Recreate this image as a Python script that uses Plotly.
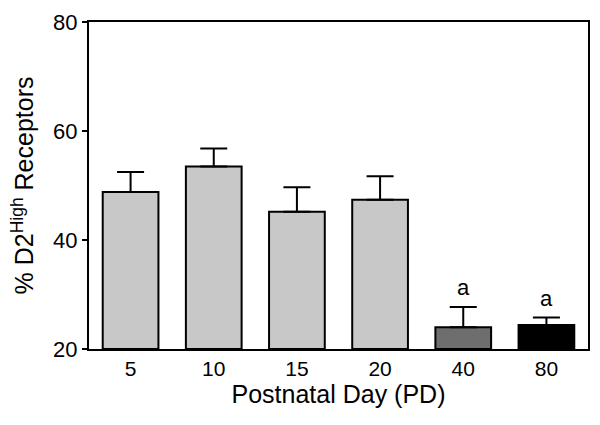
import plotly.graph_objects as go

categories = ["5", "10", "15", "20", "40", "80"]
means = [48.8, 53.5, 45.2, 47.4, 24.0, 24.4]
sem = [3.7, 3.3, 4.5, 4.3, 3.7, 1.4]
bar_colors = ["#c8c8c8", "#c8c8c8", "#c8c8c8", "#c8c8c8", "#6e6e6e", "#000000"]
sig_labels = ["", "", "", "", "a", "a"]
y_ticks = [20, 40, 60, 80]

fig = go.Figure()
fig.add_trace(go.Bar(
    x=categories, y=[m - 20 for m in means], base=20,
    marker=dict(color=bar_colors, line=dict(color="black", width=2)),
    width=0.67,
    error_y=dict(type="data", array=sem, arrayminus=[0]*len(sem), symmetric=False,
                 color="black", thickness=2, width=13.5),
    showlegend=False,
))

font = "Liberation Sans, Arial, sans-serif"
for i, (m, s, lab) in enumerate(zip(means, sem, sig_labels)):
    if lab:
        fig.add_annotation(x=i, xref="x", y=m + s + 3.5, yref="y", text=lab,
                           showarrow=False, yanchor="middle",
                           font=dict(size=22, color="black", family=font))

fig.update_layout(
    width=600, height=425,
    margin=dict(l=89, r=10, t=16, b=76),
    paper_bgcolor="white", plot_bgcolor="white",
    font=dict(family=font, color="black"),
    bargap=0.33,
)
fig.update_xaxes(
    type="category", range=[-0.5, 5.5],
    showline=True, linecolor="black", linewidth=2, mirror=True,
    ticks="", showgrid=False,
    tickfont=dict(size=21, family=font),
    title=dict(text="Postnatal Day (PD)", font=dict(size=25, family=font), standoff=5),
)
fig.update_yaxes(
    range=[20, 80], tickvals=y_ticks,
    showline=True, linecolor="black", linewidth=2, mirror=True,
    ticks="outside", ticklen=5, tickwidth=2, tickcolor="black",
    showgrid=False, zeroline=False,
    tickfont=dict(size=22, family=font),
    title=dict(text="% D2<sup>High</sup> Receptors", font=dict(size=25, family=font), standoff=12),
)

fig.write_html("out.html", config={"displayModeBar": False},
               post_script="document.body.style.margin='0';")
